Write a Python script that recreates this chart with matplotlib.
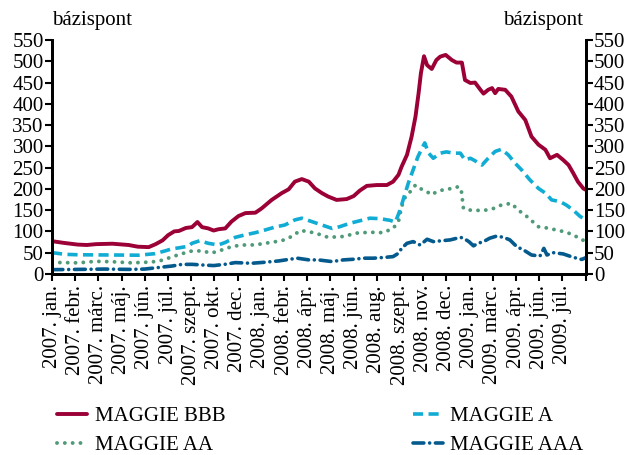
import matplotlib
matplotlib.use("Agg")
import matplotlib.pyplot as plt

plt.rcParams['font.family'] = ['Liberation Serif', 'DejaVu Serif']

# trading-day index, a tick label every 30 days
tick_labels = ['2007. jan.', '2007. febr.', '2007. márc.', '2007. máj.', '2007. jún.',
               '2007. júl.', '2007. szept.', '2007. okt.', '2007. dec.', '2008. jan.',
               '2008. febr.', '2008. ápr.', '2008. máj.', '2008. jún.', '2008. aug.',
               '2008. szept.', '2008. nov.', '2008. dec.', '2009. jan.', '2009. márc.',
               '2009. ápr.', '2009. jún.', '2009. júl.']
step = 30
n_days = 690

bbb_day = [0, 15, 33, 45, 57, 78, 99, 111, 125, 134, 143, 150, 158, 164, 173, 181, 188, 194,
           202, 209, 215, 224, 232, 241, 250, 263, 271, 284, 297, 306, 314, 323, 332, 340,
           349, 357, 368, 381, 390, 398, 407, 420, 433, 441, 448, 452, 459, 465, 470, 474,
           477, 481, 485, 491, 497, 502, 509, 517, 523, 530, 534, 541, 547, 554, 558, 564,
           569, 573, 577, 586, 594, 603, 612, 620, 629, 638, 644, 653, 661, 668, 674, 680,
           687, 690]
bbb_val = [77, 73, 69, 68, 70, 71, 68, 64, 63, 70, 79, 91, 100, 101, 108, 110, 122, 110,
           107, 102, 105, 107, 123, 136, 143, 144, 154, 174, 190, 199, 217, 223, 217, 201,
           190, 182, 174, 176, 183, 196, 207, 209, 209, 217, 233, 252, 280, 323, 370, 425,
           472, 512, 491, 482, 503, 511, 515, 503, 497, 497, 456, 449, 450, 433, 424, 433,
           437, 425, 435, 433, 417, 382, 362, 323, 304, 292, 272, 280, 268, 256, 237, 217,
           201, 198]

a_day = [0, 17, 34, 77, 112, 133, 146, 155, 163, 176, 181, 191, 202, 215, 224, 237, 250,
         263, 275, 288, 301, 314, 323, 336, 349, 362, 372, 385, 398, 411, 424, 437, 444,
         450, 455, 461, 467, 473, 479, 482, 487, 493, 502, 510, 519, 528, 534, 541, 547,
         556, 564, 573, 581, 590, 599, 607, 618, 629, 638, 646, 657, 665, 674, 683, 687,
         690]
a_val = [50, 46, 45, 44.5, 44, 47.6, 54, 59, 61, 65, 72, 78, 72, 68, 74, 86, 92, 97, 103,
         110, 115, 127, 131, 123, 115, 107, 111, 119, 125, 131, 130, 126, 122, 150, 180,
         215, 245, 275, 298, 308, 284, 272, 284, 287, 284, 284, 268, 272, 266, 256, 272,
         288, 293, 280, 260, 245, 221, 201, 190, 174, 170, 162, 150, 135, 131, 128]

aa_day = [0, 34, 56, 77, 103, 129, 142, 155, 168, 181, 194, 206, 219, 232, 245, 258, 271,
          284, 297, 310, 321, 332, 344, 357, 377, 394, 411, 428, 441, 448, 452, 457, 463,
          470, 476, 485, 491, 497, 508, 519, 525, 529, 532, 541, 558, 571, 581, 594, 603,
          614, 629, 640, 653, 663, 674, 685, 690]
aa_val = [27, 26, 29.5, 28.7, 26, 28, 32, 40, 47.6, 54, 54, 49, 56, 64, 68, 68, 70.5, 74.5,
          78, 88, 102, 99.5, 94, 86, 88, 96, 98, 97, 107, 123, 158, 182, 193, 209, 201, 193,
          186, 193, 199, 201, 205, 200, 154, 150, 149, 154, 162, 166, 150, 135, 111, 108,
          103, 99, 92, 80, 78]

aaa_day = [0, 34, 68, 99, 120, 142, 155, 168, 181, 194, 209, 224, 237, 258, 275, 293, 317,
           332, 344, 362, 377, 390, 403, 416, 431, 441, 448, 452, 459, 467, 476, 485, 493,
           504, 515, 528, 532, 539, 545, 551, 558, 566, 575, 584, 592, 601, 610, 620, 631,
           636, 640, 648, 661, 674, 685, 690]
aaa_val = [10, 10.6, 11.4, 10.6, 11.4, 16, 18.5, 22.4, 22.5, 21, 19.6, 22.7, 26.6, 25,
           27.4, 30.5, 37, 33, 33, 29, 33, 34.5, 37, 37, 39, 40.7, 48.6, 60, 72, 76, 68,
           81.5, 76, 78, 80, 86, 84, 76, 66, 72, 76, 84, 89, 86, 80, 64, 56, 44.5, 42, 60,
           44.5, 50, 47, 39, 34, 38]

c_bbb = '#9b0036'
c_a = '#11acd4'
c_aa = '#4f9a78'
c_aaa = '#045a8d'
fs = 15

fig = plt.figure(figsize=(6.27, 4.55), dpi=100)
ax = fig.add_axes([0.083, 0.398, 0.851, 0.514])

ax.plot(bbb_day, bbb_val, color=c_bbb, lw=2.8, solid_capstyle='round', label='MAGGIE BBB')
ax.plot(aa_day, aa_val, color=c_aa, lw=2.8, linestyle=(0, (0.01, 2.0)),
        dash_capstyle='round', label='MAGGIE AA')
ax.plot(a_day, a_val, color=c_a, lw=2.6, linestyle=(0, (2.8, 1.5)), label='MAGGIE A')
ax.plot(aaa_day, aaa_val, color=c_aaa, lw=2.6, linestyle=(0, (3.0, 1.6, 0.01, 1.6)),
        dash_capstyle='round', label='MAGGIE AAA')

ax.set_xlim(0, n_days)
ax.set_ylim(0, 550)
yt = list(range(0, 551, 50))
ax.set_yticks(yt)
ax.set_yticklabels([str(v) for v in yt], fontsize=fs)
ax.set_xticks(range(0, n_days + 1, step))
ax.set_xticklabels(tick_labels + [''], rotation=90, fontsize=fs)
ax.tick_params(axis='y', direction='out', length=5, width=1.5, pad=1)
ax.tick_params(axis='x', direction='out', length=5, width=1.5, pad=3)
for s in ax.spines.values():
    s.set_linewidth(2)
ax.spines['top'].set_visible(False)

ax2 = ax.twinx()
ax2.set_ylim(0, 550)
ax2.set_yticks(yt)
ax2.set_yticklabels([str(v) for v in yt], fontsize=fs)
ax2.tick_params(axis='y', direction='out', length=5, width=1.5, pad=1)
for s in ax2.spines.values():
    s.set_linewidth(2)
ax2.spines['top'].set_visible(False)

ax.text(0.0, 1.045, 'bázispont', transform=ax.transAxes, fontsize=fs, ha='left', va='bottom')
ax.text(0.995, 1.045, 'bázispont', transform=ax.transAxes, fontsize=fs, ha='right', va='bottom')

h, l = ax.get_legend_handles_labels()
fig.legend(h, l, ncol=2, loc='lower left', bbox_to_anchor=(0.068, -0.032), frameon=False,
           fontsize=fs, handlelength=1.45, handletextpad=0.35, columnspacing=9.0,
           labelspacing=0.45, borderpad=0.2)

fig.savefig('out.png', dpi=100)
